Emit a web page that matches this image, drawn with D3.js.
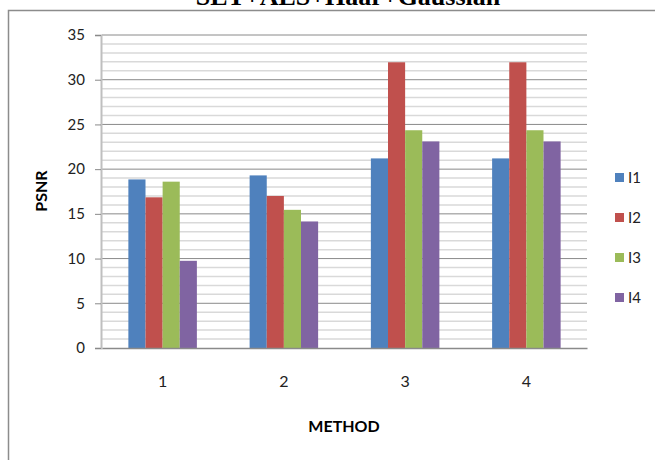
<!DOCTYPE html>
<html>
<head>
<meta charset="utf-8">
<script src="https://cdn.jsdelivr.net/npm/d3@7"></script>
<style>
  html, body { margin: 0; padding: 0; background: #fff; }
  svg { display: block; }
</style>
</head>
<body>
<svg id="chart" width="655" height="460"></svg>
<script>
// PSNR per method for each test image
const methods = ["1", "2", "3", "4"];
const seriesNames = ["I1", "I2", "I3", "I4"];
const I1 = [18.85, 19.3, 21.2, 21.2];
const I2 = [16.85, 17.0, 31.95, 31.95];
const I3 = [18.6, 15.45, 24.35, 24.35];
const I4 = [9.75, 14.15, 23.1, 23.1];
const yTicks = [0, 5, 10, 15, 20, 25, 30, 35];
const colors = ["#4f81bd", "#c0504d", "#9bbb59", "#8064a2"];

const series = [I1, I2, I3, I4];
const svg = d3.select("#chart");
const font = "Lato, 'Open Sans', sans-serif";

// outer frame
svg.append("rect")
  .attr("x", 8.5).attr("y", 10.5)
  .attr("width", 700).attr("height", 500)
  .attr("fill", "none").attr("stroke", "#8c8c8c").attr("stroke-width", 1.5);

// title (runs above the frame)
svg.append("text")
  .attr("x", 348).attr("y", 5)
  .attr("text-anchor", "middle")
  .attr("font-family", "'Liberation Serif', 'Times New Roman', serif")
  .attr("font-weight", "bold").attr("font-size", 26)
  .text("SET+AES+Haar+Gaussian");

const x0 = d3.scaleBand().domain(methods).range([102, 587])
  .paddingInner(0.435).paddingOuter(0.2175);
const x1 = d3.scaleBand().domain(seriesNames).range([0, x0.bandwidth()]);
const y = d3.scaleLinear().domain([0, 35]).range([348, 35]);

// minor grid lines every 1 unit
const minor = d3.range(1, 35).filter(v => v % 5 !== 0);
svg.append("g").selectAll("line").data(minor).join("line")
  .attr("x1", 102).attr("x2", 587)
  .attr("y1", d => y(d)).attr("y2", d => y(d))
  .attr("stroke", "#d9d9d9").attr("stroke-width", 1.5);

// major grid lines
svg.append("g").selectAll("line").data(yTicks.filter(d => d > 0)).join("line")
  .attr("x1", 102).attr("x2", 587)
  .attr("y1", d => y(d)).attr("y2", d => y(d))
  .attr("stroke", "#8a8a8a").attr("stroke-width", 1);

// y axis
const yAxis = svg.append("g")
  .attr("transform", "translate(101,0)")
  .call(d3.axisLeft(y).tickValues(yTicks).tickSize(6).tickPadding(10));
yAxis.select(".domain").attr("stroke", "#bfbfbf").attr("stroke-width", 2);
yAxis.selectAll(".tick line").attr("stroke", "#8a8a8a");
yAxis.selectAll(".tick text")
  .attr("font-family", font).attr("font-size", 15).attr("fill", "#222");

// bars
const groups = svg.append("g").selectAll("g").data(methods).join("g")
  .attr("transform", d => `translate(${x0(d)},0)`);
groups.selectAll("rect")
  .data((m, i) => series.map((s, k) => ({ name: seriesNames[k], value: s[i], k })))
  .join("rect")
  .attr("x", d => x1(d.name))
  .attr("y", d => y(d.value))
  .attr("width", x1.bandwidth())
  .attr("height", d => y(0) - y(d.value))
  .attr("fill", d => colors[d.k]);

// x axis
const xAxis = svg.append("g")
  .attr("transform", "translate(0,348)")
  .call(d3.axisBottom(x0).tickSize(0).tickPadding(28));
xAxis.select(".domain").attr("stroke", "#8a8a8a").attr("stroke-width", 1.5);
xAxis.selectAll(".tick text")
  .attr("font-family", font).attr("font-size", 16).attr("fill", "#222");

// axis titles
svg.append("text")
  .attr("transform", "translate(47,191) rotate(-90)")
  .attr("text-anchor", "middle")
  .attr("font-family", font).attr("font-weight", "bold").attr("font-size", 16)
  .text("PSNR");
svg.append("text")
  .attr("x", 344).attr("y", 432)
  .attr("text-anchor", "middle")
  .attr("font-family", font).attr("font-weight", "bold").attr("font-size", 16)
  .text("METHOD");

// legend
const legend = svg.append("g").selectAll("g").data(seriesNames).join("g")
  .attr("transform", (d, i) => `translate(615,${173 + i * 40})`);
legend.append("rect").attr("width", 9).attr("height", 9)
  .attr("fill", (d, i) => colors[i]);
legend.append("text").attr("x", 13).attr("y", 10)
  .attr("font-family", font).attr("font-size", 15).attr("fill", "#222")
  .text(d => d);
</script>
</body>
</html>
